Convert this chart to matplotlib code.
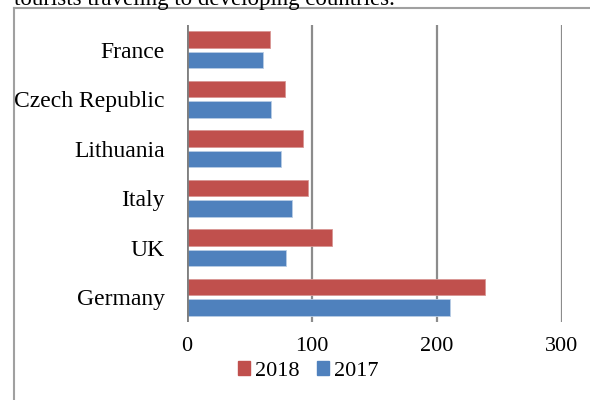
import matplotlib
matplotlib.use("Agg")
import matplotlib.pyplot as plt
import numpy as np
from matplotlib.lines import Line2D

countries = ["France", "Czech Republic", "Lithuania", "Italy", "UK", "Germany"]
values_2018 = [66, 78, 93, 97, 116, 238]
values_2017 = [61, 67, 75, 84, 79, 210]
xticks = [0, 100, 200, 300]

plt.rcParams['font.family'] = ['Liberation Serif', 'DejaVu Serif']

fig = plt.figure(figsize=(5.9, 4.0), dpi=100)
W, H = 590, 400
ax = fig.add_axes([187 / W, 1 - 322 / H, (562 - 187) / W, (322 - 25) / H])

red = "#c0504d"
blue = "#4f81bd"
y = np.arange(len(countries))
h = 0.33
off = 0.21
ax.barh(y - off, values_2018, height=h, color=red, edgecolor="#d99694", linewidth=0.6, label="2018", zorder=3)
ax.barh(y + off, values_2017, height=h, color=blue, edgecolor="#b9cde5", linewidth=0.6, label="2017", zorder=3)

ax.set_ylim(len(countries) - 0.5, -0.5)
ax.set_xlim(0, 300)
ax.set_xticks(xticks)
ax.set_xticklabels([str(t) for t in xticks], fontsize=16)
ax.set_yticks(y)
ax.set_yticklabels(countries, fontsize=17)
ax.tick_params(axis='both', length=0)
ax.tick_params(axis='y', pad=16)
ax.tick_params(axis='x', pad=11)
for s in ax.spines.values():
    s.set_visible(False)
ax.grid(axis='x', color="#8c8c8c", linewidth=1.6, zorder=0)
ax.axvline(0, color="#7f7f7f", linewidth=2, zorder=4)

handles = [plt.Rectangle((0, 0), 1, 1, color=red), plt.Rectangle((0, 0), 1, 1, color=blue)]
fig.legend(handles, ["2018", "2017"], loc="center", bbox_to_anchor=(308 / W, 1 - 371 / H),
           ncol=2, frameon=False, fontsize=16, handlelength=0.55, handleheight=0.55,
           handletextpad=0.2, columnspacing=0.8, borderpad=0)

# outer frame (partially visible)
fig.add_artist(Line2D([14 / W, 1], [1 - 8 / H, 1 - 8 / H], color="#a0a0a0", linewidth=1.5))
fig.add_artist(Line2D([14 / W, 14 / W], [0, 1 - 8 / H], color="#a0a0a0", linewidth=1.5))

fig.text(14 / W, 1 - 5 / H, "tourists traveling to developing countries.", fontsize=16.5,
         ha="left", va="baseline")

fig.savefig("out.png", dpi=100)
